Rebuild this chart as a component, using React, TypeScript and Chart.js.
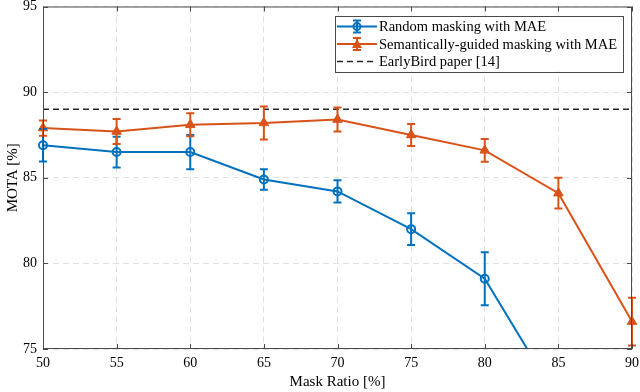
import React, { useEffect, useRef } from "react";
import { Chart, registerables } from "chart.js";

Chart.register(...registerables);

const maskRatio = [50, 55, 60, 65, 70, 75, 80, 85, 90];
const randomMota = [86.9, 86.5, 86.5, 84.9, 84.2, 82.0, 79.1, 72.0, null];
const randomErr = [0.95, 0.9, 1.0, 0.6, 0.65, 0.93, 1.55, 1.5, null];
const semanticMota = [87.9, 87.7, 88.1, 88.2, 88.4, 87.5, 86.6, 84.1, 76.6];
const semanticErr = [0.45, 0.73, 0.67, 0.96, 0.7, 0.64, 0.67, 0.9, 1.4];
const earlyBird = 89.0;
const xTicks = [50, 55, 60, 65, 70, 75, 80, 85, 90];
const yTicks = [75, 80, 85, 90, 95];

const seriesLabels = [
  "Random masking with MAE",
  "Semantically-guided masking with MAE",
  "EarlyBird paper [14]",
];

const BLUE = "#0072BD";
const ORANGE = "#D95319";
const AXIS = "#4a4a4a";
const FONT = "'Liberation Serif', serif";

const errorBars = {
  id: "errorBars",
  afterDatasetsDraw(chart: any) {
    const { ctx, chartArea, scales } = chart;
    const x = scales.x;
    const y = scales.y;
    ctx.save();
    ctx.beginPath();
    ctx.rect(chartArea.left - 8, chartArea.top - 8, chartArea.right - chartArea.left + 16, chartArea.bottom - chartArea.top + 8);
    ctx.clip();
    chart.data.datasets.forEach((ds: any) => {
      if (!ds.errors) return;
      ctx.strokeStyle = ds.borderColor;
      ctx.lineWidth = 2;
      ds.data.forEach((p: any, i: number) => {
        const e = ds.errors[i];
        if (p.y == null || e == null) return;
        const px = x.getPixelForValue(p.x);
        const y1 = y.getPixelForValue(p.y + e);
        const y2 = y.getPixelForValue(p.y - e);
        ctx.beginPath();
        ctx.moveTo(px, y1);
        ctx.lineTo(px, y2);
        ctx.moveTo(px - 4, y1);
        ctx.lineTo(px + 4, y1);
        ctx.moveTo(px - 4, y2);
        ctx.lineTo(px + 4, y2);
        ctx.stroke();
      });
    });
    ctx.restore();
  },
};

const frame = {
  id: "frame",
  afterDraw(chart: any) {
    const { ctx, chartArea, scales } = chart;
    const { left, right, top, bottom } = chartArea;
    ctx.save();
    ctx.strokeStyle = AXIS;
    ctx.lineWidth = 1;
    ctx.strokeRect(left + 0.5, top + 0.5, right - left - 1, bottom - top - 1);
    const tl = 5;
    ctx.beginPath();
    xTicks.forEach((v) => {
      const px = Math.round(scales.x.getPixelForValue(v)) + 0.5;
      ctx.moveTo(px, bottom);
      ctx.lineTo(px, bottom - tl);
      ctx.moveTo(px, top);
      ctx.lineTo(px, top + tl);
    });
    yTicks.forEach((v) => {
      const py = Math.round(scales.y.getPixelForValue(v)) + 0.5;
      ctx.moveTo(left, py);
      ctx.lineTo(left + tl, py);
      ctx.moveTo(right, py);
      ctx.lineTo(right - tl, py);
    });
    ctx.stroke();

    // legend
    ctx.font = `14.5px ${FONT}`;
    const textW = Math.max(...seriesLabels.map((s) => ctx.measureText(s).width));
    const sampleW = 40;
    const boxW = 2 + sampleW + 2 + textW + 6;
    const rowH = 17.5;
    const boxH = rowH * 3 + 3;
    const bx = right - 9 - boxW;
    const by = top + 9;
    ctx.fillStyle = "#fff";
    ctx.fillRect(bx, by, boxW, boxH);
    ctx.strokeStyle = AXIS;
    ctx.lineWidth = 1;
    ctx.strokeRect(Math.round(bx) + 0.5, Math.round(by) + 0.5, Math.round(boxW), Math.round(boxH));
    const colors = [BLUE, ORANGE, "#262626"];
    seriesLabels.forEach((lab, i) => {
      const cy = by + 11 + i * rowH;
      const x0 = bx + 2;
      const x1 = x0 + sampleW;
      ctx.strokeStyle = colors[i];
      ctx.lineWidth = i === 2 ? 1.5 : 2;
      ctx.setLineDash(i === 2 ? [6, 4] : []);
      ctx.beginPath();
      ctx.moveTo(x0, cy);
      ctx.lineTo(x1, cy);
      ctx.stroke();
      ctx.setLineDash([]);
      const mx = (x0 + x1) / 2;
      if (i < 2) {
        ctx.lineWidth = 2;
        ctx.beginPath();
        ctx.moveTo(mx, cy - 6);
        ctx.lineTo(mx, cy + 6);
        ctx.moveTo(mx - 4, cy - 6);
        ctx.lineTo(mx + 4, cy - 6);
        ctx.moveTo(mx - 4, cy + 6);
        ctx.lineTo(mx + 4, cy + 6);
        ctx.stroke();
      }
      if (i === 0) {
        ctx.beginPath();
        ctx.arc(mx, cy, 3.5, 0, Math.PI * 2);
        ctx.stroke();
      } else if (i === 1) {
        ctx.fillStyle = ORANGE;
        ctx.beginPath();
        ctx.moveTo(mx, cy - 5);
        ctx.lineTo(mx + 5, cy + 4);
        ctx.lineTo(mx - 5, cy + 4);
        ctx.closePath();
        ctx.fill();
      }
      ctx.fillStyle = "#000";
      ctx.textBaseline = "middle";
      ctx.textAlign = "left";
      ctx.fillText(lab, x1 + 2, cy + 1);
    });
    ctx.restore();
  },
};

export default function App() {
  const ref = useRef<HTMLCanvasElement>(null);
  useEffect(() => {
    document.body.style.margin = "0";
    const toPts = (arr: (number | null)[]) => maskRatio.map((x, i) => ({ x, y: arr[i] }));
    const chart = new Chart(ref.current!, {
      type: "line",
      data: {
        datasets: [
          {
            label: seriesLabels[0],
            data: toPts(randomMota) as any,
            errors: randomErr,
            borderColor: BLUE,
            backgroundColor: "rgba(0,0,0,0)",
            borderWidth: 2,
            pointStyle: "circle",
            pointRadius: 4,
            pointBorderWidth: 2,
            pointBorderColor: BLUE,
            pointBackgroundColor: "rgba(0,0,0,0)",
            clip: { left: 8, right: 8, top: 8, bottom: 0 },
          } as any,
          {
            label: seriesLabels[1],
            data: toPts(semanticMota) as any,
            errors: semanticErr,
            borderColor: ORANGE,
            backgroundColor: ORANGE,
            borderWidth: 2,
            pointStyle: "triangle",
            pointRadius: 5.5,
            pointBorderWidth: 1,
            pointBorderColor: ORANGE,
            pointBackgroundColor: ORANGE,
            clip: { left: 8, right: 8, top: 8, bottom: 0 },
          } as any,
          {
            label: seriesLabels[2],
            data: [
              { x: 50, y: earlyBird },
              { x: 90, y: earlyBird },
            ],
            borderColor: "#262626",
            borderWidth: 1.5,
            borderDash: [6, 4],
            pointRadius: 0,
          },
        ],
      },
      options: {
        animation: false,
        responsive: false,
        layout: { padding: { top: 5, right: 8, left: 0, bottom: 0 } },
        plugins: { legend: { display: false }, tooltip: { enabled: false } },
        scales: {
          x: {
            type: "linear",
            min: 50,
            max: 90,
            afterFit: (s: any) => {
              s.height = 43;
              s.paddingLeft = 0;
              s.paddingRight = 0;
            },
            afterBuildTicks: (s: any) => {
              s.ticks = xTicks.map((v) => ({ value: v }));
            },
            border: { display: false, dash: [6, 4] },
            grid: { color: "#e0e0e0", lineWidth: 1, drawTicks: false } as any,
            ticks: { color: "#000", padding: 6, font: { family: FONT, size: 14 } },
            title: {
              display: true,
              text: "Mask Ratio [%]",
              color: "#000",
              font: { family: FONT, size: 15 },
              padding: { top: 0, bottom: 1 },
            },
          },
          y: {
            type: "linear",
            min: 75,
            max: 95,
            afterFit: (s: any) => {
              s.width = 43;
              s.paddingTop = 0;
              s.paddingBottom = 0;
            },
            afterBuildTicks: (s: any) => {
              s.ticks = yTicks.map((v) => ({ value: v }));
            },
            border: { display: false, dash: [6, 4] },
            grid: { color: "#e0e0e0", lineWidth: 1, drawTicks: false } as any,
            ticks: { color: "#000", padding: 6, font: { family: FONT, size: 14 } },
            title: {
              display: true,
              text: "MOTA [%]",
              color: "#000",
              font: { family: FONT, size: 15 },
              padding: { top: 4, bottom: 0 },
            },
          },
        },
      },
      plugins: [errorBars, frame],
    } as any);
    return () => chart.destroy();
  }, []);
  return <canvas ref={ref} width={640} height={392} />;
}
